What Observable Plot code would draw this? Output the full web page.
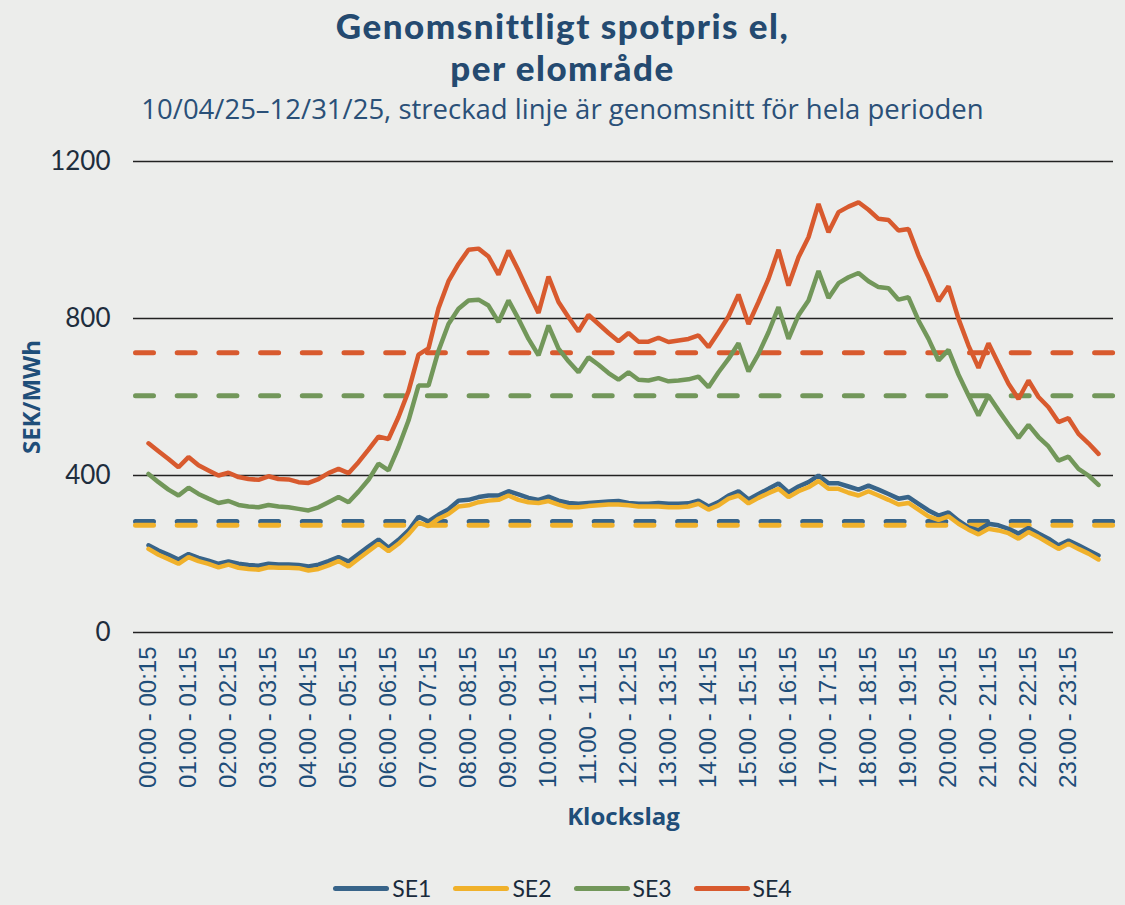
<!DOCTYPE html>
<html>
<head>
<meta charset="utf-8">
<script src="https://cdn.jsdelivr.net/npm/d3@7"></script>
<script src="https://cdn.jsdelivr.net/npm/@observablehq/plot@0.6"></script>
<style>
  html, body { margin: 0; padding: 0; background: #ecedeb; }
  #wrap { position: relative; width: 1125px; height: 905px; background: #ecedeb; overflow: hidden; }
  .title { position: absolute; left: 0; width: 1125px; text-align: center;
    font-family: Lato, "Open Sans", sans-serif; font-weight: 900; font-size: 35px; line-height: 42px; color: #244a70; letter-spacing: 1.5px; }
  #t1 { top: 4px; }
  #t2 { top: 46px; }
  #subtitle { position: absolute; left: 0; top: 94px; width: 1125px; text-align: center;
    font-family: "Open Sans", "Liberation Sans", sans-serif; font-size: 27.5px; line-height: 30px; color: #2a5078; }
  #chart { position: absolute; left: 0; top: 140px; }
  #legend { position: absolute; left: 0; top: 874px; width: 1125px; display: flex; justify-content: center; gap: 22px;
    font-family: Lato, "Open Sans", sans-serif; font-size: 23px; color: #1a2b3c; }
  .item { display: flex; align-items: center; gap: 3px; }
  .sw { width: 56px; height: 5px; border-radius: 3px; display: inline-block; }
</style>
</head>
<body>
<div id="wrap">
  <div class="title" id="t1">Genomsnittligt spotpris el,</div>
  <div class="title" id="t2">per elområde</div>
  <div id="subtitle">10/04/25–12/31/25, streckad linje är genomsnitt för hela perioden</div>
  <div id="chart"></div>
  <div id="legend"></div>
</div>
<script>
const seriesNames = ["SE1", "SE2", "SE3", "SE4"];
const seriesColors = ["#386489", "#f0b12b", "#72975a", "#d85a2e"];

const hourTicks = ["00:00 - 00:15","01:00 - 01:15","02:00 - 02:15","03:00 - 03:15","04:00 - 04:15","05:00 - 05:15",
  "06:00 - 06:15","07:00 - 07:15","08:00 - 08:15","09:00 - 09:15","10:00 - 10:15","11:00 - 11:15",
  "12:00 - 12:15","13:00 - 13:15","14:00 - 14:15","15:00 - 15:15","16:00 - 16:15","17:00 - 17:15",
  "18:00 - 18:15","19:00 - 19:15","20:00 - 20:15","21:00 - 21:15","22:00 - 22:15","23:00 - 23:15"];

const yTicks = [0, 400, 800, 1200];

const se1 = [222,209,198,186,200,190,183,175,181,175,172,170,175,173,173,172,168,173,182,192,181,200,219,237,
  216,236,260,295,283,300,314,336,338,345,349,349,360,352,343,338,346,336,330,328,330,332,334,335,
  330,328,328,330,328,328,329,336,321,332,349,360,339,353,366,380,357,372,383,400,380,380,372,364,
  374,364,353,341,345,328,311,298,306,285,268,260,277,273,264,252,266,252,239,222,234,222,209,196];

const se2 = [213,198,187,175,192,182,175,166,173,165,162,160,166,165,165,164,158,162,171,182,168,188,207,226,
  207,226,250,280,271,290,302,321,324,332,336,338,349,338,332,330,335,326,319,319,322,324,326,326,
  324,321,321,321,319,319,321,328,313,324,341,349,329,343,355,366,345,360,370,386,366,366,356,349,
  360,349,338,326,330,313,296,287,296,277,262,250,264,260,253,239,256,243,228,213,226,213,201,186];

const se3 = [404,383,364,349,369,353,341,330,335,325,321,319,325,321,319,315,311,319,332,345,332,359,389,430,
  413,472,540,629,629,718,786,825,846,848,833,791,846,799,748,706,782,723,691,663,701,682,661,644,
  663,644,642,648,640,642,645,652,625,663,697,737,665,710,765,829,748,808,846,921,852,890,905,916,
  895,880,877,848,854,795,748,693,720,657,604,553,604,566,530,496,529,498,474,438,448,417,400,376];

const se4 = [482,462,442,421,447,426,413,400,407,396,391,389,398,391,390,383,381,391,406,417,406,434,466,499,
  493,549,615,708,724,826,895,939,975,978,958,912,973,922,867,814,907,842,803,767,809,786,763,742,
  763,741,741,751,740,744,748,757,727,765,805,861,786,842,901,975,884,956,1007,1092,1020,1071,1085,1096,
  1077,1054,1051,1024,1028,961,905,844,882,799,731,674,737,685,634,595,642,600,574,536,546,506,482,455];

const averages = [283, 273, 603, 713];

// quarter-hour category labels (x domain)
const pad = n => String(n).padStart(2, "0");
const slots = [];
for (let h = 0; h < 24; h++) {
  for (let q = 0; q < 4; q++) {
    const m0 = q * 15, tEnd = h * 60 + m0 + 15;
    const h1 = Math.floor(tEnd / 60) % 24, m1 = tEnd % 60;
    slots.push(`${pad(h)}:${pad(m0)} - ${pad(h1)}:${pad(m1)}`);
  }
}

const allSeries = [se1, se2, se3, se4];
const rows = [];
allSeries.forEach((vals, s) => vals.forEach((v, i) => rows.push({slot: slots[i], value: v, series: seriesNames[s]})));
const avgRows = averages.map((v, s) => ({series: seriesNames[s], value: v}));

const chart = Plot.plot({
  width: 1125,
  height: 700,
  marginTop: 21,
  marginBottom: 208,
  marginLeft: 133,
  marginRight: 12,
  style: {background: "transparent", fontFamily: "'Liberation Sans', Arial, sans-serif"},
  x: {type: "point", domain: slots, range: [137, 1108]},
  y: {domain: [0, 1200]},
  color: {domain: seriesNames, range: seriesColors},
  marks: [
    Plot.gridY(yTicks, {stroke: "#222", strokeOpacity: 1, strokeWidth: 1.5}),
    Plot.axisY(yTicks, {tickSize: 0, tickPadding: 23, label: null, fontSize: 26, fill: "#1e2d3d",
      tickFormat: d => String(d), fontFamily: "Lato, 'Open Sans', sans-serif"}),
    Plot.axisX(hourTicks, {tickSize: 0, tickPadding: 14, tickRotate: -90, label: null, fontSize: 24, fill: "#1f4e79"}),
    Plot.ruleY(avgRows, {y: "value", stroke: "series", strokeWidth: 5, strokeDasharray: "18 23.7",
      strokeDashoffset: -2.5, strokeLinecap: "round"}),
    Plot.line(rows, {x: "slot", y: "value", z: "series", stroke: "series", strokeWidth: 4.5,
      strokeLinejoin: "miter", strokeLinecap: "round", curve: "linear"}),
    Plot.text(["SEK/MWh"], {text: d => d, frameAnchor: "left", textAnchor: "middle", dx: -101, rotate: -90, fontSize: 24,
      fontWeight: "bold", fill: "#1f4e79", fontFamily: "'Open Sans', Lato, sans-serif"}),
    Plot.text(["Klockslag"], {text: d => d, frameAnchor: "bottom", dy: 192, fontSize: 24,
      fontWeight: "bold", fill: "#1f4e79", fontFamily: "'Open Sans', Lato, sans-serif"})
  ]
});
document.getElementById("chart").appendChild(chart);

const legend = document.getElementById("legend");
seriesNames.forEach((name, s) => {
  const item = document.createElement("div");
  item.className = "item";
  const sw = document.createElement("span");
  sw.className = "sw";
  sw.style.background = seriesColors[s];
  const lab = document.createElement("span");
  lab.textContent = name;
  item.appendChild(sw);
  item.appendChild(lab);
  legend.appendChild(item);
});
</script>
</body>
</html>
